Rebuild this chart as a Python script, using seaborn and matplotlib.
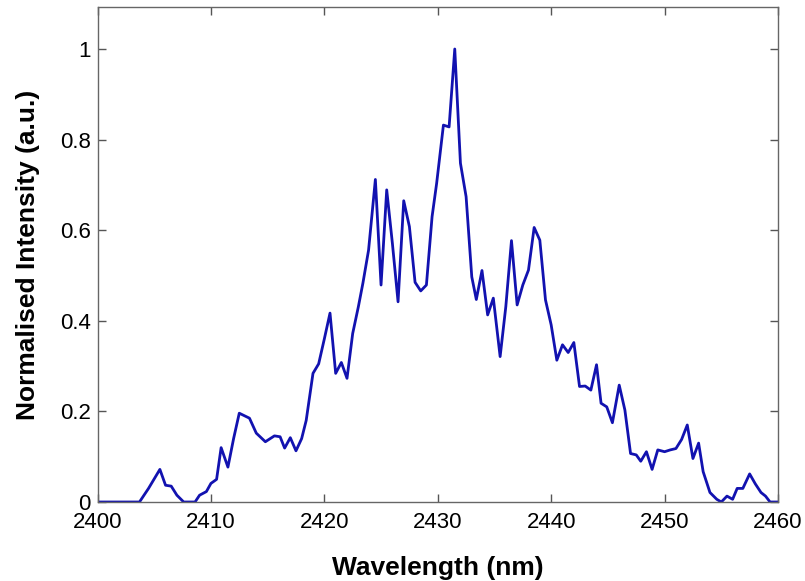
import matplotlib
matplotlib.use("Agg")
import matplotlib.pyplot as plt
import seaborn as sns
import pandas as pd

wavelength = [2400.0, 2401.0, 2402.0, 2403.0, 2403.7, 2404.5, 2405.5, 2406.0, 2406.5, 2407.0,
              2407.6, 2408.1, 2408.6, 2409.0, 2409.6, 2410.0, 2410.5, 2410.9, 2411.5, 2412.0,
              2412.5, 2413.4, 2414.0, 2414.8, 2415.6, 2416.1, 2416.5, 2417.0, 2417.5, 2418.0,
              2418.4, 2419.0, 2419.5, 2420.0, 2420.5, 2421.0, 2421.5, 2422.0, 2422.5, 2423.0,
              2423.4, 2423.9, 2424.5, 2425.0, 2425.5, 2426.0, 2426.5, 2427.0, 2427.5, 2428.0,
              2428.5, 2429.0, 2429.5, 2429.9, 2430.5, 2431.0, 2431.5, 2432.0, 2432.5, 2433.0,
              2433.4, 2433.9, 2434.4, 2434.9, 2435.5, 2436.0, 2436.5, 2437.0, 2437.5, 2438.0,
              2438.5, 2439.0, 2439.5, 2440.0, 2440.5, 2441.0, 2441.5, 2442.0, 2442.5, 2443.0,
              2443.5, 2444.0, 2444.4, 2444.9, 2445.4, 2446.0, 2446.5, 2447.0, 2447.5, 2447.9,
              2448.4, 2448.9, 2449.4, 2450.0, 2450.5, 2451.0, 2451.5, 2452.0, 2452.5, 2453.0,
              2453.4, 2454.0, 2454.6, 2455.0, 2455.5, 2456.0, 2456.4, 2456.9, 2457.5, 2458.0,
              2458.5, 2458.9, 2459.3, 2460.0]
intensity = [0.0, 0.0, 0.0, 0.0, 0.0, 0.03, 0.072, 0.037, 0.035, 0.015,
             0.0, 0.0, 0.0, 0.015, 0.023, 0.041, 0.05, 0.12, 0.077, 0.14,
             0.196, 0.185, 0.152, 0.133, 0.146, 0.144, 0.119, 0.142, 0.113, 0.14,
             0.18, 0.284, 0.305, 0.36, 0.417, 0.284, 0.308, 0.273, 0.372, 0.431,
             0.483, 0.556, 0.712, 0.479, 0.689, 0.571, 0.442, 0.665, 0.608, 0.485,
             0.466, 0.479, 0.63, 0.703, 0.832, 0.828, 1.0, 0.748, 0.674, 0.497,
             0.447, 0.511, 0.413, 0.45, 0.321, 0.431, 0.577, 0.435, 0.479, 0.512,
             0.606, 0.578, 0.446, 0.391, 0.313, 0.347, 0.33, 0.352, 0.255, 0.256,
             0.247, 0.303, 0.218, 0.21, 0.175, 0.258, 0.203, 0.107, 0.104, 0.09,
             0.111, 0.072, 0.115, 0.111, 0.115, 0.118, 0.138, 0.17, 0.096, 0.13,
             0.067, 0.021, 0.006, 0.0, 0.013, 0.006, 0.03, 0.03, 0.062, 0.04,
             0.021, 0.013, 0.0, 0.0]

x_ticks = [2400, 2410, 2420, 2430, 2440, 2450, 2460]
y_ticks = [0, 0.2, 0.4, 0.6, 0.8, 1.0]
y_tick_labels = ["0", "0.2", "0.4", "0.6", "0.8", "1"]

df = pd.DataFrame({"Wavelength": wavelength, "Intensity": intensity})

sns.set_theme(style="white")
plt.rcParams["font.family"] = ["Liberation Sans", "DejaVu Sans"]

fig = plt.figure(figsize=(8.05, 5.81), dpi=100)
ax = fig.add_axes([97.5 / 805, 1 - 502 / 581, (778 - 97.5) / 805, (502 - 7) / 581])

sns.lineplot(data=df, x="Wavelength", y="Intensity", ax=ax, color="#1212b0",
             linewidth=2.0, estimator=None, sort=False)

ax.set_xlim(2400, 2460)
ax.set_ylim(0, 495 / 453)
ax.set_xticks(x_ticks)
ax.set_xticklabels([str(t) for t in x_ticks])
ax.set_yticks(y_ticks)
ax.set_yticklabels(y_tick_labels)
ax.tick_params(direction="in", length=6, width=1, color="#555555",
               labelsize=16, top=True, right=True, bottom=True, left=True,
               labelcolor="black")
ax.tick_params(axis="x", pad=7)
ax.tick_params(axis="y", pad=5)
for s in ax.spines.values():
    s.set_color("#666666")
    s.set_linewidth(1.0)

ax.set_xlabel("Wavelength (nm)", fontsize=19, fontweight="bold", labelpad=17, color="black")
ax.set_ylabel("Normalised Intensity (a.u.)", fontsize=19, fontweight="bold", labelpad=14, color="black")

fig.savefig("out.png", dpi=100, facecolor="white")
